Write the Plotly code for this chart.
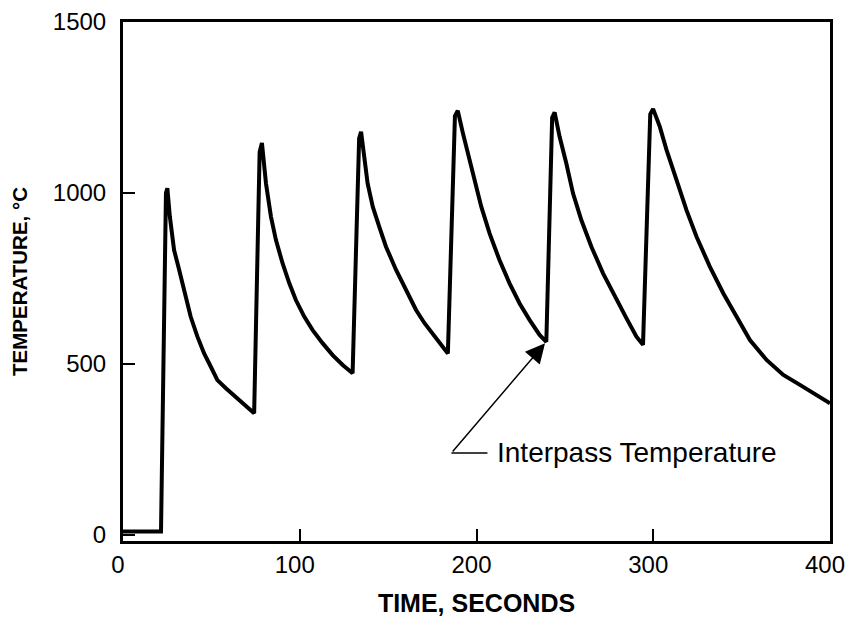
import plotly.graph_objects as go

# Thermal cycle (time in s, temperature in °C)
time_s = [0, 21.5, 24.3, 25.1,
          26.5, 28.9, 31.3, 33.6, 35.5, 38.3, 42.1, 45.9, 49.7, 53.4, 58.2, 63.9, 69.5, 74.2,
          77.3, 78.6,
          80.9, 83.7, 86.5, 90.3, 94.1, 97.8, 102.6, 107.3, 112.9, 118.6, 124.3, 129.9,
          133.6, 134.7,
          138.4, 141.3, 145.0, 148.8, 154.5, 160.2, 165.8, 170.5, 175.2, 180.9, 183.8,
          187.8, 189.4,
          192.3, 195.1, 198.9, 202.7, 207.4, 213.0, 218.7, 224.4, 230.0, 235.7, 239.5,
          242.8, 244.2,
          247.0, 250.8, 254.6, 259.3, 265.0, 271.6, 278.2, 284.8, 290.5, 294.2,
          298.3, 299.9,
          303.7, 307.5, 313.2, 318.8, 324.5, 332.0, 339.6, 347.1, 354.7, 364.1, 373.6,
          383.0, 392.5, 400.0]
temp_c = [10, 10, 1000, 1014,
          931, 833, 785, 736, 687, 638, 580, 531, 492, 453, 429, 404, 380, 356,
          1120, 1146,
          1028, 931, 863, 794, 736, 687, 638, 599, 561, 526, 497, 473,
          1160, 1179,
          1028, 960, 901, 843, 775, 716, 658, 620, 588, 550, 531,
          1225, 1241,
          1175, 1116, 1038, 960, 882, 804, 736, 677, 629, 585, 565,
          1220, 1236,
          1165, 1087, 999, 921, 843, 765, 697, 634, 580, 556,
          1230, 1246,
          1194, 1126, 1038, 950, 872, 785, 707, 638, 570, 512, 468,
          439, 409, 385]

x_ticks = [0, 100, 200, 300, 400]
y_ticks = [0, 500, 1000, 1500]
label_text = "Interpass Temperature"
interpass_index = temp_c.index(565)  # valley before the 5th pass

FONT = "Liberation Sans, Arial"

fig = go.Figure()
fig.add_trace(go.Scatter(x=time_s, y=temp_c, mode="lines",
                         line=dict(color="black", width=4),
                         showlegend=False, hoverinfo="skip"))

tail_x, tail_y = 185.8, 240
fig.add_annotation(x=time_s[interpass_index], y=temp_c[interpass_index],
                   ax=tail_x, ay=tail_y, axref="x", ayref="y", xref="x", yref="y",
                   showarrow=True, arrowhead=2, arrowsize=2.6, arrowwidth=1.5,
                   arrowcolor="black", standoff=2, text="")
fig.add_shape(type="line", x0=tail_x, y0=tail_y, x1=206.2, y1=tail_y,
              xref="x", yref="y", line=dict(color="black", width=1.5))
fig.add_annotation(x=210.5, y=tail_y, xref="x", yref="y", text=label_text,
                   showarrow=False, xanchor="left", yanchor="middle",
                   font=dict(family=FONT, size=28, color="black"))

axis_common = dict(showline=True, linecolor="black", linewidth=3, mirror=True,
                   ticks="inside", ticklen=12, tickwidth=2, tickcolor="black",
                   showgrid=False, zeroline=False, automargin=False,
                   ticklabeloverflow="allow",
                   tickfont=dict(family=FONT, size=24, color="black"))

# the page body adds an 8px margin on every side, so the figure is sized to fit the window
fig.update_layout(
    width=839, height=609,
    margin=dict(l=115, r=17, t=14, b=76),
    paper_bgcolor="white", plot_bgcolor="white",
    xaxis=dict(range=[0, 400], tickvals=x_ticks, ticklabelshift=-5,
               title=dict(text="<b>TIME, SECONDS</b>", standoff=19,
                          font=dict(family=FONT, size=25, color="black")),
               **axis_common),
    yaxis=dict(range=[-17.5, 1500], tickvals=y_ticks, ticklabelstandoff=9,
               title=dict(text="<b>TEMPERATURE, °C</b>", standoff=20,
                          font=dict(family=FONT, size=20.5, color="black")),
               **axis_common),
)

fig.write_html("out.html")
